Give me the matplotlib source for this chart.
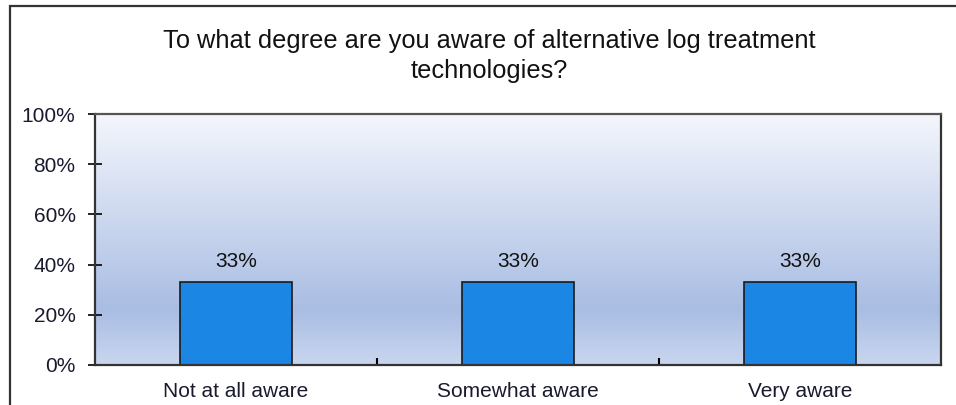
import numpy as np
import matplotlib.pyplot as plt
from matplotlib.colors import LinearSegmentedColormap
from matplotlib.patches import Rectangle

plt.rcParams["font.family"] = ["Liberation Sans", "DejaVu Sans"]

title = "To what degree are you aware of alternative log treatment\ntechnologies?"
categories = ["Not at all aware", "Somewhat aware", "Very aware"]
values = [33, 33, 33]
yticks = [0, 20, 40, 60, 80, 100]

fig = plt.figure(figsize=(9.56, 4.05), dpi=100)
ax = fig.add_axes([95 / 956, 1 - 365 / 405, (941 - 95) / 956, (365 - 114) / 405])

# outer frame of the chart (cropped on the right and bottom)
fig.patches.append(Rectangle((9.5 / 956, -0.1), 1.2, 1.1 - 6 / 405,
                             transform=fig.transFigure, fill=False,
                             edgecolor="#333333", linewidth=1.6))

# gradient background of the plot area
cmap = LinearSegmentedColormap.from_list(
    "bg", [(0.0, "#c9d6ef"), (0.22, "#a9bde3"), (1.0, "#f4f6fc")])
grad = np.linspace(0, 1, 256).reshape(-1, 1)
x = np.arange(len(categories))
ax.imshow(grad, cmap=cmap, origin="lower", aspect="auto",
          extent=(-0.5, len(categories) - 0.5, 0, 100), zorder=0)

bars = ax.bar(x, values, width=0.4, color="#1c86e5", edgecolor="#1a1a1a",
              linewidth=1.2, zorder=2)
for b, v in zip(bars, values):
    ax.text(b.get_x() + b.get_width() / 2, v + 4.5, f"{v}%", ha="center",
            va="bottom", fontsize=15, color="#111111")

ax.set_xlim(-0.5, len(categories) - 0.5)
ax.set_ylim(0, 100)
ax.set_yticks(yticks)
ax.set_yticklabels([f"{t}%" for t in yticks], fontsize=15, color="#1a1a2e")
ax.tick_params(axis="y", direction="inout", length=10, width=1.2, pad=9)

ax.set_xticks(x)
ax.set_xticklabels(categories, fontsize=15, color="#1a1a2e")
ax.set_xticks(x[:-1] + 0.5, minor=True)
ax.tick_params(axis="x", which="major", length=0, pad=12)
ax.tick_params(axis="x", which="minor", direction="in", length=5, width=1.5)

for s in ax.spines.values():
    s.set_color("#333333")
    s.set_linewidth(1.6)
ax.spines["top"].set_color("#555555")

fig.text(489 / 956, 1 - 56 / 405, title, ha="center", va="center",
         fontsize=18.3, linespacing=1.28, color="#111111")

fig.savefig("out.png", dpi=100)
